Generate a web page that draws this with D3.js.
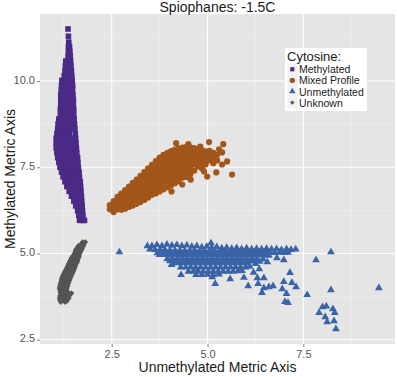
<!DOCTYPE html>
<html>
<head>
<meta charset="utf-8">
<script src="https://cdn.jsdelivr.net/npm/d3@7"></script>
<style>
  body { margin: 0; background: #fff; }
  text { font-family: "Liberation Sans", Arial, sans-serif; }
</style>
</head>
<body>
<svg id="chart" width="397" height="377"></svg>
<script>
// ---- data: [unmethylated axis, methylated axis] ----
const methylated = [
  [1.36,11.51],[1.37,11.30],[1.38,11.13],
  [1.37,11.00],[1.40,11.00],
  [1.37,10.86],[1.41,10.86],
  [1.36,10.72],[1.42,10.72],
  [1.30,10.58],[1.37,10.58],[1.43,10.58],
  [1.29,10.44],[1.37,10.44],[1.44,10.44],
  [1.28,10.30],[1.36,10.30],[1.45,10.30],
  [1.26,10.16],[1.36,10.16],[1.46,10.16],
  [1.20,10.02],[1.29,10.02],[1.38,10.02],[1.47,10.02],
  [1.19,9.88],[1.29,9.88],[1.39,9.88],[1.48,9.88],
  [1.18,9.74],[1.28,9.74],[1.38,9.74],[1.48,9.74],
  [1.17,9.60],[1.26,9.60],[1.37,9.60],[1.49,9.60],
  [1.17,9.46],[1.27,9.46],[1.38,9.46],[1.50,9.46],
  [1.17,9.32],[1.27,9.32],[1.39,9.32],[1.50,9.32],
  [1.16,9.18],[1.26,9.18],[1.38,9.18],[1.51,9.18],
  [1.16,9.04],[1.26,9.04],[1.38,9.04],[1.51,9.04],
  [1.12,8.90],[1.21,8.90],[1.31,8.90],[1.42,8.90],[1.52,8.90],
  [1.10,8.76],[1.20,8.76],[1.31,8.76],[1.42,8.76],[1.53,8.76],
  [1.09,8.62],[1.19,8.62],[1.30,8.62],[1.42,8.62],[1.54,8.62],
  [1.07,8.48],[1.17,8.48],[1.28,8.48],[1.40,8.48],[1.55,8.48],
  [1.05,8.34],[1.15,8.34],[1.26,8.34],[1.36,8.34],[1.46,8.34],[1.56,8.34],
  [1.05,8.20],[1.15,8.20],[1.26,8.20],[1.37,8.20],[1.47,8.20],[1.57,8.20],
  [1.05,8.06],[1.15,8.06],[1.26,8.06],[1.37,8.06],[1.48,8.06],[1.58,8.06],
  [1.07,7.92],[1.17,7.92],[1.28,7.92],[1.38,7.92],[1.49,7.92],[1.59,7.92],
  [1.09,7.78],[1.19,7.78],[1.30,7.78],[1.40,7.78],[1.51,7.78],[1.61,7.78],
  [1.12,7.64],[1.22,7.64],[1.32,7.64],[1.42,7.64],[1.52,7.64],[1.62,7.64],
  [1.15,7.50],[1.25,7.50],[1.35,7.50],[1.44,7.50],[1.54,7.50],[1.63,7.50],
  [1.19,7.36],[1.29,7.36],[1.38,7.36],[1.47,7.36],[1.56,7.36],[1.65,7.36],
  [1.23,7.22],[1.32,7.22],[1.41,7.22],[1.50,7.22],[1.58,7.22],[1.66,7.22],
  [1.28,7.08],[1.37,7.08],[1.45,7.08],[1.53,7.08],[1.60,7.08],[1.68,7.08],
  [1.33,6.94],[1.42,6.94],[1.50,6.94],[1.60,6.94],[1.69,6.94],
  [1.39,6.80],[1.47,6.80],[1.55,6.80],[1.63,6.80],[1.70,6.80],
  [1.45,6.66],[1.53,6.66],[1.62,6.66],[1.71,6.66],
  [1.51,6.52],[1.59,6.52],[1.66,6.52],[1.72,6.52],
  [1.56,6.38],[1.64,6.38],[1.73,6.38],
  [1.61,6.24],[1.68,6.24],[1.74,6.24],
  [1.64,6.10],[1.70,6.10],[1.75,6.10],
  [1.66,5.96],[1.73,5.96],[1.79,5.96]
];

const mixedProfile = [
  [2.45,6.40],[2.45,6.28],
  [2.55,6.52],[2.55,6.40],[2.55,6.28],[2.55,6.20],
  [2.65,6.64],[2.65,6.52],[2.65,6.40],[2.65,6.28],
  [2.75,6.74],[2.75,6.62],[2.75,6.50],[2.75,6.38],[2.75,6.27],
  [2.85,6.84],[2.85,6.72],[2.85,6.60],[2.85,6.48],[2.85,6.36],[2.85,6.30],
  [2.95,6.94],[2.95,6.82],[2.95,6.70],[2.95,6.58],[2.95,6.46],[2.95,6.35],
  [3.05,7.05],[3.05,6.93],[3.05,6.81],[3.05,6.69],[3.05,6.57],[3.05,6.45],[3.05,6.39],
  [3.15,7.14],[3.15,7.02],[3.15,6.90],[3.15,6.78],[3.15,6.66],[3.15,6.54],[3.15,6.44],
  [3.25,7.25],[3.25,7.13],[3.25,7.01],[3.25,6.89],[3.25,6.77],[3.25,6.65],[3.25,6.53],[3.25,6.49],
  [3.35,7.36],[3.35,7.24],[3.35,7.12],[3.35,7.00],[3.35,6.88],[3.35,6.76],[3.35,6.64],[3.35,6.55],
  [3.45,7.47],[3.45,7.35],[3.45,7.23],[3.45,7.11],[3.45,6.99],[3.45,6.87],[3.45,6.75],[3.45,6.62],
  [3.55,7.57],[3.55,7.45],[3.55,7.33],[3.55,7.21],[3.55,7.09],[3.55,6.97],[3.55,6.85],[3.55,6.70],
  [3.65,7.68],[3.65,7.56],[3.65,7.44],[3.65,7.32],[3.65,7.20],[3.65,7.08],[3.65,6.96],[3.65,6.84],[3.65,6.74],
  [3.75,7.78],[3.75,7.66],[3.75,7.54],[3.75,7.42],[3.75,7.30],[3.75,7.18],[3.75,7.06],[3.75,6.94],[3.75,6.80],
  [3.85,7.86],[3.85,7.74],[3.85,7.62],[3.85,7.50],[3.85,7.38],[3.85,7.26],[3.85,7.14],[3.85,7.02],[3.85,6.86],
  [3.95,7.92],[3.95,7.80],[3.95,7.68],[3.95,7.56],[3.95,7.44],[3.95,7.32],[3.95,7.20],[3.95,7.08],[3.95,6.92],
  [4.05,7.97],[4.05,7.85],[4.05,7.73],[4.05,7.61],[4.05,7.49],[4.05,7.37],[4.05,7.25],[4.05,7.13],[4.05,6.98],
  [4.15,8.01],[4.15,7.89],[4.15,7.77],[4.15,7.65],[4.15,7.53],[4.15,7.41],[4.15,7.29],[4.15,7.17],[4.15,7.04],
  [4.25,8.05],[4.25,7.93],[4.25,7.81],[4.25,7.69],[4.25,7.57],[4.25,7.45],[4.25,7.33],[4.25,7.21],[4.25,7.10],
  [4.35,8.07],[4.35,7.95],[4.35,7.83],[4.35,7.71],[4.35,7.59],[4.35,7.47],[4.35,7.35],[4.35,7.20],
  [4.45,8.09],[4.45,7.97],[4.45,7.85],[4.45,7.73],[4.45,7.61],[4.45,7.49],[4.45,7.37],[4.45,7.22],
  [4.55,8.08],[4.55,7.96],[4.55,7.84],[4.55,7.72],[4.55,7.60],[4.55,7.48],[4.55,7.30],
  [4.65,8.06],[4.65,7.94],[4.65,7.82],[4.65,7.70],[4.65,7.58],[4.65,7.40],
  [4.75,8.03],[4.75,7.91],[4.75,7.79],[4.75,7.67],[4.75,7.52],
  [4.85,8.00],[4.85,7.88],[4.85,7.76],[4.85,7.62],[4.85,7.52],
  [4.95,7.96],[4.95,7.84],[4.95,7.70],[4.95,7.58],
  [5.05,7.98],[5.05,7.85],[5.05,7.70],
  [5.15,7.92],[5.15,7.78],[5.15,7.62],
  [5.25,7.86],[5.25,7.70],
  [4.18,8.20],[4.50,8.17],[5.04,8.23],[5.41,8.17],[4.81,8.10],[5.30,8.02],
  [5.38,7.93],[5.51,7.67],[5.64,7.29],[5.38,7.58],[5.23,7.35],[4.99,7.23],
  [4.56,7.14],[4.34,7.00],[4.06,6.80],[4.86,7.46],[4.91,7.38]
];

const unmethylated = [
  [3.55,5.22],[3.68,5.25],[3.81,5.22],[3.94,5.26],[4.07,5.23],[4.20,5.25],[4.33,5.22],[4.46,5.24],
  [4.59,5.20],[4.72,5.22],[4.85,5.18],[4.98,5.20],[5.11,5.17],[5.24,5.19],[5.37,5.15],[5.50,5.17],
  [5.63,5.14],[5.76,5.16],[5.89,5.13],[6.02,5.15],[6.15,5.12],[6.28,5.14],[6.41,5.12],[6.54,5.14],
  [6.67,5.12],[6.80,5.13],[6.93,5.11],[7.06,5.13],[7.18,5.11],[7.30,5.12],
  [3.50,5.12],[3.63,5.11],[3.76,5.10],[3.89,5.10],[4.02,5.09],[4.15,5.09],[4.28,5.08],[4.41,5.08],
  [4.54,5.07],[4.67,5.07],[4.80,5.06],[4.93,5.06],[5.06,5.06],[5.19,5.05],[5.32,5.05],[5.45,5.05],
  [5.58,5.04],[5.71,5.04],[5.84,5.04],[5.97,5.04],[6.10,5.03],[6.23,5.03],[6.36,5.03],[6.49,5.03],
  [6.62,5.03],[6.75,5.02],[6.88,5.03],[7.01,5.02],[7.10,5.03],
  [3.69,5.01],[3.82,5.01],[3.95,5.01],[4.08,5.01],[4.21,5.01],[4.34,5.01],[4.47,5.01],[4.60,5.01],
  [4.73,5.01],[4.86,5.01],[4.99,5.01],[5.12,5.01],[5.25,5.01],[5.38,5.01],[5.51,5.01],[5.64,5.01],
  [5.77,5.01],[5.90,5.01],[6.03,5.01],[6.16,5.01],[6.29,5.01],[6.42,5.00],[6.55,4.99],
  [3.75,4.96],[3.88,4.96],[4.01,4.96],[4.14,4.96],[4.27,4.96],[4.40,4.96],[4.53,4.96],[4.66,4.96],
  [4.79,4.96],[4.92,4.96],[5.05,4.96],[5.18,4.96],[5.31,4.96],[5.44,4.96],[5.57,4.96],[5.70,4.96],
  [5.83,4.96],[5.96,4.96],[6.09,4.96],[6.22,4.96],[6.35,4.96],[6.48,4.95],[6.60,4.94],
  [3.95,4.84],[4.08,4.84],[4.21,4.84],[4.34,4.84],[4.47,4.84],[4.60,4.84],[4.73,4.84],[4.86,4.84],
  [4.99,4.84],[5.12,4.84],[5.25,4.84],[5.38,4.84],[5.51,4.84],[5.64,4.84],[5.77,4.84],[5.90,4.84],
  [6.03,4.84],[6.16,4.84],[6.29,4.84],[6.45,4.83],
  [4.02,4.78],[4.15,4.78],[4.28,4.78],[4.41,4.78],[4.54,4.78],[4.67,4.78],[4.80,4.78],[4.93,4.78],
  [5.06,4.78],[5.19,4.78],[5.32,4.78],[5.45,4.78],[5.58,4.78],[5.71,4.78],[5.84,4.78],[5.97,4.78],
  [6.10,4.78],[6.23,4.78],[6.36,4.77],
  [4.10,4.72],[4.23,4.72],[4.36,4.72],[4.49,4.72],[4.62,4.72],[4.75,4.72],[4.88,4.72],[5.01,4.72],
  [5.14,4.72],[5.27,4.72],[5.40,4.72],[5.53,4.72],[5.66,4.72],[5.79,4.72],[5.92,4.72],[6.05,4.72],
  [6.25,4.70],
  [4.30,4.60],[4.43,4.60],[4.56,4.60],[4.69,4.60],[4.82,4.60],[4.95,4.60],[5.08,4.60],[5.21,4.60],
  [5.34,4.60],[5.47,4.60],[5.60,4.60],[5.73,4.60],[5.86,4.60],[5.99,4.60],[6.10,4.62],
  [4.50,4.48],[4.63,4.48],[4.76,4.48],[4.89,4.48],[5.02,4.48],[5.15,4.48],[5.28,4.48],[5.41,4.48],
  [5.54,4.48],[5.67,4.48],[5.80,4.49],[5.90,4.50],
  [4.70,4.38],[4.85,4.38],[5.00,4.39],[5.15,4.38],[5.30,4.40],
  [2.70,5.04],[3.43,5.22],[5.09,5.30],[8.22,5.04],[7.83,4.81],[9.47,4.00],[8.22,3.94],[7.60,3.80],
  [8.00,3.45],[8.10,3.47],[8.27,3.39],[7.91,3.28],[8.07,3.16],[8.12,3.01],[8.30,3.04],[8.35,2.81],
  [8.32,3.28],[7.15,4.44],[6.99,4.18],[7.20,4.15],[7.31,4.03],[6.95,3.97],[7.06,3.83],[7.02,3.60],
  [7.10,3.57],[6.42,3.86],[6.47,4.00],[6.60,4.03],[6.71,4.06],[6.06,4.06],[6.32,4.12],[6.30,4.29],
  [6.47,4.29],[5.59,4.26],[5.20,4.12],[5.12,4.32],[6.81,4.87],[6.99,4.81],[6.56,4.75],[4.06,4.67],
  [4.31,4.38],[4.73,4.49],[6.20,4.45],[6.35,4.55],[5.95,4.30]
];

const unknown = [
  [1.74,5.33],[1.81,5.33],
  [1.70,5.27],[1.77,5.27],
  [1.63,5.22],[1.70,5.22],[1.76,5.22],
  [1.60,5.16],[1.67,5.16],[1.73,5.16],
  [1.56,5.10],[1.64,5.10],[1.71,5.10],
  [1.55,5.04],[1.62,5.04],[1.68,5.04],
  [1.53,4.99],[1.60,4.99],[1.66,4.99],
  [1.49,4.93],[1.58,4.93],[1.65,4.93],
  [1.45,4.87],[1.54,4.87],[1.63,4.87],
  [1.43,4.81],[1.52,4.81],[1.61,4.81],
  [1.40,4.75],[1.50,4.75],[1.60,4.75],
  [1.38,4.70],[1.48,4.70],[1.57,4.70],
  [1.35,4.64],[1.45,4.64],[1.55,4.64],
  [1.33,4.58],[1.43,4.58],[1.53,4.58],
  [1.30,4.52],[1.40,4.52],[1.51,4.52],
  [1.28,4.47],[1.38,4.47],[1.49,4.47],
  [1.25,4.41],[1.35,4.41],[1.47,4.41],
  [1.22,4.35],[1.33,4.35],[1.44,4.35],
  [1.20,4.29],[1.30,4.29],[1.42,4.29],
  [1.19,4.23],[1.29,4.23],[1.40,4.23],
  [1.18,4.17],[1.28,4.17],[1.38,4.17],
  [1.16,4.12],[1.26,4.12],[1.36,4.12],
  [1.15,4.06],[1.25,4.06],[1.35,4.06],
  [1.14,4.00],[1.24,4.00],[1.33,4.00],
  [1.15,3.94],[1.24,3.94],[1.32,3.94],
  [1.16,3.88],[1.26,3.88],[1.35,3.88],
  [1.17,3.83],[1.28,3.83],[1.37,3.83],[1.45,3.85],
  [1.15,3.77],[1.26,3.77],[1.33,3.77],[1.40,3.78],
  [1.14,3.71],[1.25,3.71],[1.38,3.70],
  [1.15,3.65],[1.26,3.65],[1.33,3.62],
  [1.17,3.59],[1.28,3.59]
];

const groups = ["Methylated", "Mixed Profile", "Unmethylated", "Unknown"];
const groupData = [methylated, mixedProfile, unmethylated, unknown];
const colors = ["#4b2a87", "#a2561a", "#3a63a8", "#545454"];
const xTicks = [2.5, 5.0, 7.5];
const yTicks = [2.5, 5.0, 7.5, 10.0];

// ---- layout ----
const width = 397, height = 377;
const margin = {top: 14, right: 2, bottom: 33, left: 40};

const svg = d3.select("#chart");
svg.append("rect").attr("width", width).attr("height", height).attr("fill", "#fff");

const points = [];
groupData.forEach((arr, gi) => arr.forEach(d => points.push({x: d[0], y: d[1], g: gi})));

// ggplot-like 5% expansion
function expand(ext) {
  const pad = (ext[1] - ext[0]) * 0.05;
  return [ext[0] - pad, ext[1] + pad];
}

const x = d3.scaleLinear()
  .domain(expand(d3.extent(points, d => d.x)))
  .range([margin.left, width - margin.right]);
const y = d3.scaleLinear()
  .domain(expand(d3.extent(points, d => d.y)))
  .range([height - margin.bottom, margin.top]);

const pw = width - margin.right - margin.left;
const ph = height - margin.bottom - margin.top;

svg.append("rect")
  .attr("x", margin.left).attr("y", margin.top)
  .attr("width", pw).attr("height", ph)
  .attr("fill", "#e5e5e5");

// minor grid at midpoints between major ticks
const xMinor = [xTicks[0] - 1.25].concat(xTicks.map(t => t + 1.25));
const yMinor = yTicks.map(t => t + 1.25);

const grid = svg.append("g");
grid.selectAll(".xmin").data(xMinor.filter(v => x(v) > margin.left && x(v) < width - margin.right))
  .join("line")
  .attr("x1", d => x(d)).attr("x2", d => x(d))
  .attr("y1", margin.top).attr("y2", margin.top + ph)
  .attr("stroke", "#f2f2f2").attr("stroke-width", 0.6);
grid.selectAll(".ymin").data(yMinor.filter(v => y(v) > margin.top))
  .join("line")
  .attr("y1", d => y(d)).attr("y2", d => y(d))
  .attr("x1", margin.left).attr("x2", margin.left + pw)
  .attr("stroke", "#f2f2f2").attr("stroke-width", 0.6);
grid.selectAll(".xmaj").data(xTicks)
  .join("line")
  .attr("x1", d => x(d)).attr("x2", d => x(d))
  .attr("y1", margin.top).attr("y2", margin.top + ph)
  .attr("stroke", "#fff").attr("stroke-width", 1.1);
grid.selectAll(".ymaj").data(yTicks)
  .join("line")
  .attr("y1", d => y(d)).attr("y2", d => y(d))
  .attr("x1", margin.left).attr("x2", margin.left + pw)
  .attr("stroke", "#fff").attr("stroke-width", 1.1);

// axes
const fmt = d3.format(".1f");
const xAxis = svg.append("g")
  .attr("transform", `translate(0,${margin.top + ph})`)
  .call(d3.axisBottom(x).tickValues(xTicks).tickFormat(fmt).tickSize(3).tickPadding(3))
  .call(g => g.select(".domain").remove());
const yAxis = svg.append("g")
  .attr("transform", `translate(${margin.left},0)`)
  .call(d3.axisLeft(y).tickValues(yTicks).tickFormat(fmt).tickSize(3).tickPadding(2))
  .call(g => g.select(".domain").remove());
yAxis.selectAll("text").attr("dy", "0.2em");
[xAxis, yAxis].forEach(a => {
  a.selectAll("line").attr("stroke", "#7f7f7f");
  a.selectAll("text").attr("fill", "#555").attr("font-size", 11)
    .attr("font-family", "Liberation Sans, Arial, sans-serif");
});

// symbols
const symPaths = [
  d3.symbol().type(d3.symbolSquare).size(31)(),
  d3.symbol().type(d3.symbolCircle).size(30)(),
  d3.symbol().type(d3.symbolTriangle).size(26)(),
  d3.symbol().type(d3.symbolSquare).size(17)()
];
const rot = [0, 0, 0, 45];

svg.append("g").selectAll("path")
  .data(points)
  .join("path")
  .attr("d", d => symPaths[d.g])
  .attr("transform", d => `translate(${x(d.x)},${y(d.y)}) rotate(${rot[d.g]})`)
  .attr("fill", d => colors[d.g]);

// title and axis titles
svg.append("text")
  .attr("x", margin.left + pw / 2).attr("y", 12.2)
  .attr("text-anchor", "middle").attr("font-size", 14).attr("fill", "#1a1a1a")
  .text("Spiophanes: -1.5C");
svg.append("text")
  .attr("x", margin.left + pw / 2).attr("y", 372)
  .attr("text-anchor", "middle").attr("font-size", 14).attr("fill", "#1a1a1a")
  .text("Unmethylated Metric Axis");
svg.append("text")
  .attr("transform", `translate(15,${margin.top + ph / 2}) rotate(-90)`)
  .attr("text-anchor", "middle").attr("font-size", 14).attr("fill", "#1a1a1a")
  .text("Methylated Metric Axis");

// legend
const legend = svg.append("g").attr("transform", "translate(285,48)");
legend.append("rect").attr("width", 82).attr("height", 63).attr("fill", "#fff");
legend.append("text").attr("x", 2).attr("y", 12.7)
  .attr("font-size", 13).attr("fill", "#1a1a1a").text("Cytosine:");
const legSym = [
  d3.symbol().type(d3.symbolSquare).size(17)(),
  d3.symbol().type(d3.symbolCircle).size(22)(),
  d3.symbol().type(d3.symbolTriangle).size(18)(),
  d3.symbol().type(d3.symbolSquare).size(9)()
];
const item = legend.selectAll(".item").data(groups).join("g")
  .attr("transform", (d, i) => `translate(0,${21.3 + i * 11.1})`);
item.append("rect").attr("x", 2).attr("y", -5.5).attr("width", 10.5).attr("height", 11)
  .attr("fill", "#f2f2f2");
item.append("path")
  .attr("d", (d, i) => legSym[i])
  .attr("transform", (d, i) => `translate(7.3,0) rotate(${rot[i]})`)
  .attr("fill", (d, i) => colors[i]);
item.append("text").attr("x", 14).attr("y", 4)
  .attr("font-size", 10.5).attr("fill", "#222").text(d => d);
</script>
</body>
</html>
